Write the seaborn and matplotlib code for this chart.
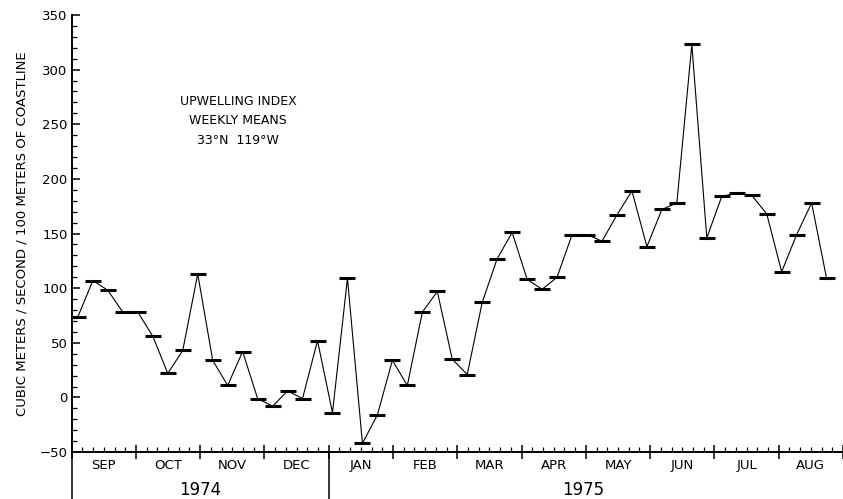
import numpy as np
import pandas as pd
import matplotlib
matplotlib.use("Agg")
import matplotlib.pyplot as plt
import seaborn as sns

# ---- data ----
week = np.arange(51)  # weekly means, Sep 1974 .. Aug 1975
upwelling = [74, 107, 98, 78, 78, 56, 22, 43, 113, 34,
             11, 42, -1, -8, 6, -1, 52, -14, 109, -42,
             -16, 34, 11, 78, 97, 35, 21, 87, 127, 151,
             108, 99, 110, 149, 149, 143, 167, 189, 138, 172,
             178, 323, 146, 184, 187, 185, 168, 115, 149, 178, 109]
months = ["SEP", "OCT", "NOV", "DEC", "JAN", "FEB", "MAR", "APR",
          "MAY", "JUN", "JUL", "AUG"]
years = ["1974", "1975"]
notes = ["UPWELLING INDEX", "WEEKLY MEANS", "33°N  119°W"]

# convert week index to month units (each month one unit, Sep start = 0)
WEEKS_PER_MONTH = 4.293
WEEK_OFFSET = 0.42
xpos = (week + WEEK_OFFSET) / WEEKS_PER_MONTH
df = pd.DataFrame({"x": xpos, "y": upwelling})

sns.set_style("ticks")
plt.rcParams["font.family"] = ["DejaVu Sans"]
plt.rcParams["text.color"] = "black"
plt.rcParams["axes.labelcolor"] = "black"
plt.rcParams["xtick.color"] = "black"
plt.rcParams["ytick.color"] = "black"

fig = plt.figure(figsize=(8.43, 4.99), dpi=100)
ax = fig.add_axes([0.085, 0.094, 0.915, 0.876])

sns.lineplot(data=df, x="x", y="y", ax=ax, color="black", linewidth=0.8,
             marker="_", markersize=11.5, markeredgewidth=2.2,
             markeredgecolor="black", sort=False)

ax.set_xlim(0, 11.866)
ax.set_ylim(-50, 350)

for s in ["top", "right"]:
    ax.spines[s].set_visible(False)
for s in ["left", "bottom"]:
    ax.spines[s].set_linewidth(1.4)
    ax.spines[s].set_color("black")

# y ticks
ax.set_yticks(np.arange(-50, 351, 50))
ax.set_yticks(np.arange(-50, 351, 10), minor=True)
ax.tick_params(axis="y", which="major", direction="in", length=6, width=1.1,
               labelsize=9.5, pad=3, colors="black")
ax.tick_params(axis="y", which="minor", direction="in", length=3.5, width=0.9)

# x ticks: month boundaries and 5-day minor ticks
ax.set_xticks(np.arange(0, 13))
ax.set_xticks([k + j / 6 for k in range(12) for j in range(1, 6)], minor=True)
ax.set_xticklabels([])
ax.tick_params(axis="x", which="major", direction="inout", length=10, width=1.1)
ax.tick_params(axis="x", which="minor", direction="in", length=3.5, width=0.9)

ax.set_xlabel("")
ax.set_ylabel("CUBIC METERS / SECOND / 100 METERS OF COASTLINE",
              fontsize=9.5, labelpad=8, color="black")

trans = ax.get_xaxis_transform()
for i, m in enumerate(months):
    ax.text(i + 0.5, -0.03, m, transform=trans, ha="center", va="center",
            fontsize=9.5, color="black")
ax.text(2.0, -0.087, years[0], transform=trans, ha="center", va="center",
        fontsize=12, color="black")
ax.text(7.96, -0.087, years[1], transform=trans, ha="center", va="center",
        fontsize=12, color="black")

# year separator lines extending below axis
for xv in [0, 4]:
    ax.plot([xv, xv], [0, -0.11], transform=trans, color="black",
            linewidth=1.1, clip_on=False)

# annotation
for j, t in enumerate(notes):
    ax.text(2.59, 271 - 18 * j, t, ha="center", va="center", fontsize=9,
            color="black")

fig.savefig("out.png", dpi=100, facecolor="white")
